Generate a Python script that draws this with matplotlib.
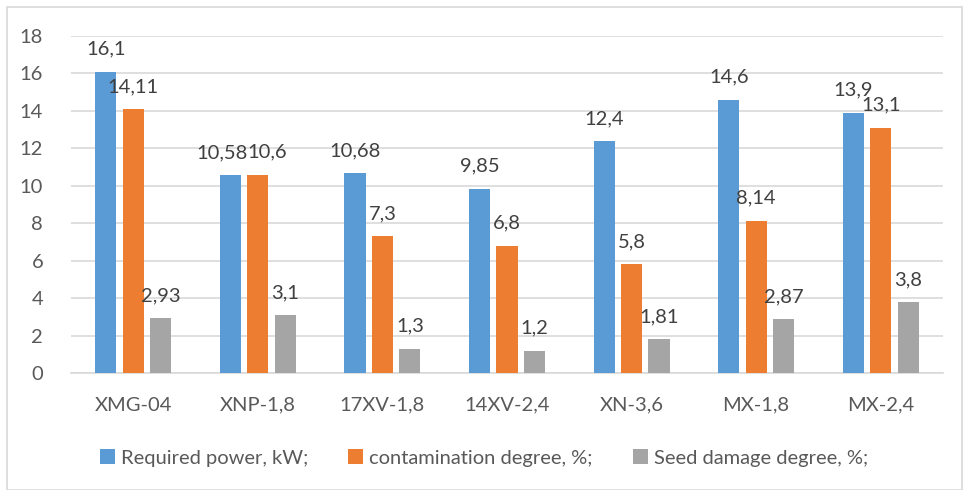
import matplotlib
matplotlib.use("Agg")
import matplotlib.pyplot as plt
import numpy as np
from matplotlib.patches import Rectangle

categories = ["XMG-04", "XNP-1,8", "17XV-1,8", "14XV-2,4", "XN-3,6", "MX-1,8", "MX-2,4"]
power = [16.1, 10.58, 10.68, 9.85, 12.4, 14.6, 13.9]
contamination = [14.11, 10.6, 7.3, 6.8, 5.8, 8.14, 13.1]
damage = [2.93, 3.1, 1.3, 1.2, 1.81, 2.87, 3.8]
series_names = ["Required power, kW;", "contamination degree, %;", "Seed damage degree, %;"]
colors = ["#5B9BD5", "#ED7D31", "#A5A5A5"]

plt.rcParams['font.family'] = ['Lato', 'DejaVu Sans']
txt = "#595959"
fs = 14.5

fig = plt.figure(figsize=(9.68, 4.9), dpi=100)
ax = fig.add_axes([71/968, 1-373/490, (943-71)/968, (373-36)/490])

x = np.arange(len(categories))
w = 0.17
step = 0.22
fmt = lambda v: ("%g" % v).replace(".", ",")
for i, (vals, name) in enumerate(zip([power, contamination, damage], series_names)):
    bars = ax.bar(x + (i - 1) * step, vals, w, color=colors[i], label=name, zorder=3)
    for j, (b, v) in enumerate(zip(bars, vals)):
        dx = 0
        if j == 1 and i == 0:
            dx = -6
        if j == 1 and i == 1:
            dx = 7
        ax.annotate(fmt(v), (b.get_x() + b.get_width() / 2, v), xytext=(dx, 10),
                    textcoords="offset points", ha="center", va="bottom",
                    fontsize=fs, color="#404040")

ax.set_xlim(-0.5, len(categories) - 0.5)
ax.set_ylim(0, 18)
ax.set_yticks(range(0, 19, 2))
ax.set_xticks(x)
ax.set_xticklabels(categories)
ax.grid(axis="y", color="#d9d9d9", linewidth=1.2, zorder=0)
for s in ["top", "right", "left"]:
    ax.spines[s].set_visible(False)
ax.spines["bottom"].set_color("#d9d9d9")
ax.spines["bottom"].set_linewidth(1.2)
ax.tick_params(axis="both", length=0, labelsize=fs, colors=txt)
ax.tick_params(axis="x", pad=17)
ax.tick_params(axis="y", pad=20)

handles, labels = ax.get_legend_handles_labels()
fig.legend(handles, labels, loc="center", bbox_to_anchor=(0.5, 1 - 458/490), ncol=3,
           frameon=False, fontsize=fs, labelcolor=txt, handlelength=0.75,
           handleheight=0.75, handletextpad=0.3, columnspacing=2.0)

fig.patches.append(Rectangle((7/968, 0), (962-7)/968, 1 - 7/490, transform=fig.transFigure,
                             fill=False, edgecolor="#d9d9d9", linewidth=1.2))

fig.savefig("out.png", dpi=100)
